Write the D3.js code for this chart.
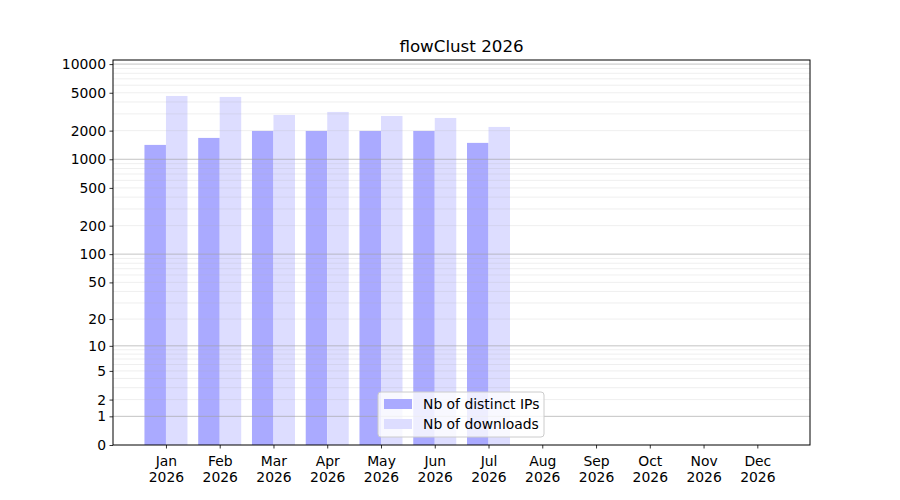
<!DOCTYPE html>
<html>
<head>
<meta charset="utf-8">
<script src="https://cdn.jsdelivr.net/npm/d3@7"></script>
<style>
  body { margin: 0; background: #fff; }
  svg { font-family: "DejaVu Sans", sans-serif; }
</style>
</head>
<body>
<svg id="canvas" width="900" height="500"></svg>
<script>
// chart data
const months = ['Jan', 'Feb', 'Mar', 'Apr', 'May', 'Jun', 'Jul', 'Aug', 'Sep', 'Oct', 'Nov', 'Dec'];
const year = '2026';
const distinctIPs = [1416, 1677, 1986, 1986, 1986, 1986, 1487];
const downloads = [4626, 4518, 2924, 3144, 2853, 2718, 2188];
const yTickValues = [0, 1, 2, 5, 10, 20, 50, 100, 200, 500, 1000, 2000, 5000, 10000];
const seriesNames = ['Nb of distinct IPs', 'Nb of downloads'];
const seriesColors = ['#aaaaff', '#ddddff'];

const canvas = d3.select('#canvas');
const plotLeft = 113, plotRight = 810, plotTop = 60, plotBottom = 445;

const xScale = d3.scaleLinear()
    .domain([-0.985, 11.98])
    .range([plotLeft, plotRight]);
const step = xScale(1) - xScale(0);
const barW = step * 0.4;

const yScale = d3.scaleSymlog()
    .constant(1)
    .domain([0, 11040])
    .range([plotBottom, plotTop]);

// minor grid values: 2..9 times each decade
let minor = [];
for (let d = 1; d <= 1000; d *= 10)
    for (let k = 2; k <= 9; k++)
        minor.push(k * d);
const major = [1, 10, 100, 1000, 10000];

// bars
const bars = canvas.append('g');
bars.selectAll('rect.ip')
    .data(distinctIPs)
    .enter().append('rect')
    .attr('class', 'ip')
    .attr('x', (d, i) => xScale(i) - barW)
    .attr('y', d => yScale(d))
    .attr('width', barW)
    .attr('height', d => plotBottom - yScale(d))
    .attr('fill', seriesColors[0]);
bars.selectAll('rect.dl')
    .data(downloads)
    .enter().append('rect')
    .attr('class', 'dl')
    .attr('x', (d, i) => xScale(i))
    .attr('y', d => yScale(d))
    .attr('width', barW)
    .attr('height', d => plotBottom - yScale(d))
    .attr('fill', seriesColors[1]);

// grid over bars
const grid = canvas.append('g');
grid.selectAll('line.minor')
    .data(minor)
    .enter().append('line')
    .attr('x1', plotLeft).attr('x2', plotRight)
    .attr('y1', d => yScale(d)).attr('y2', d => yScale(d))
    .attr('stroke', '#b0b0b0')
    .attr('stroke-opacity', 0.25)
    .attr('stroke-width', 0.8);
grid.selectAll('line.major')
    .data(major)
    .enter().append('line')
    .attr('x1', plotLeft).attr('x2', plotRight)
    .attr('y1', d => yScale(d)).attr('y2', d => yScale(d))
    .attr('stroke', '#a0a0a0')
    .attr('stroke-opacity', 0.8)
    .attr('stroke-width', 0.8);

// axes
const yAxis = d3.axisLeft(yScale)
    .tickValues(yTickValues)
    .tickFormat(d3.format('d'))
    .tickSizeOuter(0)
    .tickSize(3.5)
    .tickPadding(3.5);
const gy = canvas.append('g')
    .attr('transform', `translate(${plotLeft},0)`)
    .call(yAxis);
gy.select('.domain').remove();
gy.selectAll('text').attr('font-size', 13.9).attr('fill', '#000').attr('font-family', 'DejaVu Sans');
gy.selectAll('line').attr('stroke', '#000').attr('stroke-width', 0.8);

const xAxis = d3.axisBottom(xScale)
    .tickValues(d3.range(months.length))
    .tickFormat('')
    .tickSizeOuter(0)
    .tickSize(3.5);
const gx = canvas.append('g')
    .attr('transform', `translate(0,${plotBottom})`)
    .call(xAxis);
gx.select('.domain').remove();
gx.selectAll('line').attr('stroke', '#000').attr('stroke-width', 0.8);
gx.selectAll('.tick').each(function (d) {
    const t = d3.select(this).append('text')
        .attr('fill', '#000')
        .attr('font-size', 13.9)
        .attr('font-family', 'DejaVu Sans')
        .attr('text-anchor', 'middle');
    t.append('tspan').attr('x', 0).attr('y', 21).text(months[d]);
    t.append('tspan').attr('x', 0).attr('y', 37).text(year);
});

// frame
canvas.append('rect')
    .attr('x', plotLeft).attr('y', plotTop)
    .attr('width', plotRight - plotLeft).attr('height', plotBottom - plotTop)
    .attr('fill', 'none')
    .attr('stroke', '#000')
    .attr('stroke-width', 1);

// title
canvas.append('text')
    .attr('x', (plotLeft + plotRight) / 2)
    .attr('y', 52)
    .attr('text-anchor', 'middle')
    .attr('font-size', 16.7)
    .text('flowClust 2026');

// legend
const lg = canvas.append('g').attr('transform', 'translate(378,392)');
lg.append('rect')
    .attr('width', 166).attr('height', 45)
    .attr('rx', 3)
    .attr('fill', '#fff').attr('fill-opacity', 0.8)
    .attr('stroke', '#cccccc');
const items = lg.selectAll('g.item')
    .data(seriesNames)
    .enter().append('g')
    .attr('transform', (d, i) => `translate(6,${12 + i * 20})`);
items.append('rect')
    .attr('width', 28).attr('height', 10).attr('y', -5)
    .attr('fill', (d, i) => seriesColors[i]);
items.append('text')
    .attr('x', 39)
    .attr('dy', '0.35em')
    .attr('font-size', 13.9)
    .text(d => d);
</script>
</body>
</html>
